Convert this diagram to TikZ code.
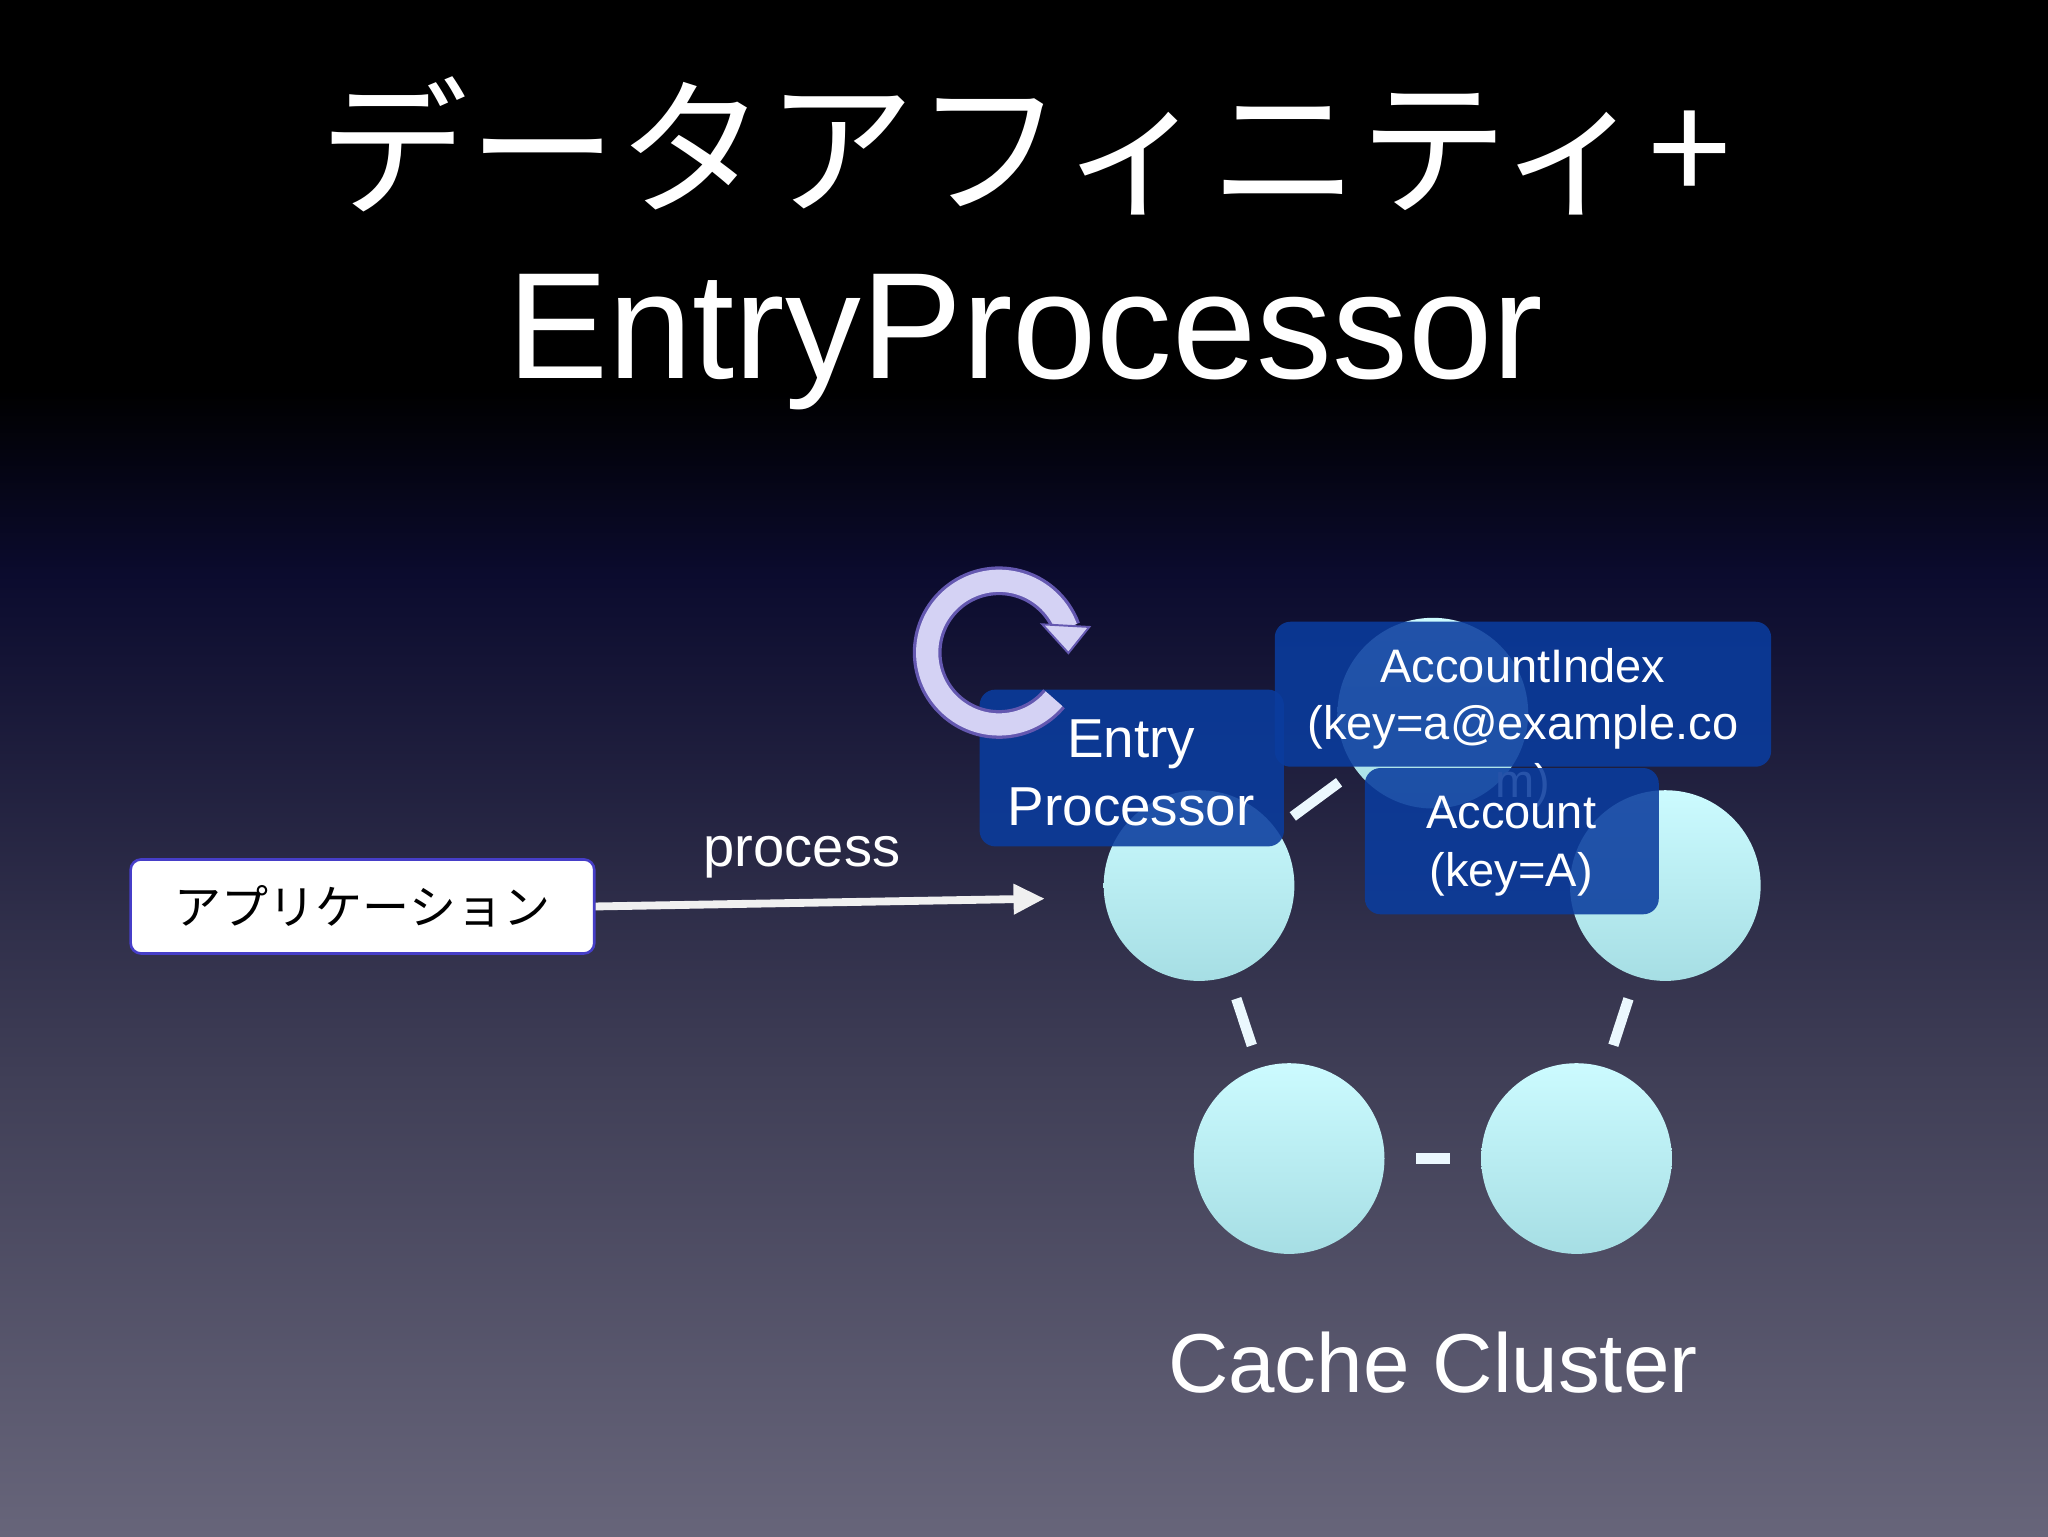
\documentclass[tikz,border=0pt]{standalone}
\usepackage{fontspec}
\setmainfont{Liberation Sans}
\newfontfamily\cjk{Noto Sans CJK JP}
\usetikzlibrary{arrows.meta}
\definecolor{bnavy}{HTML}{0B0B2E}
\definecolor{bmid}{HTML}{3F3E56}
\definecolor{bbot}{HTML}{67657A}
\definecolor{boxblue}{HTML}{0A3C9E}
\definecolor{cyanA}{HTML}{CCFBFF}
\definecolor{cyanB}{HTML}{A6DEE4}
\definecolor{lav}{HTML}{D4D2F4}
\definecolor{purp}{HTML}{6458B0}
\tikzset{
  node circ/.style={circle,minimum size=146pt,inner sep=0pt,top color=cyanA,bottom color=cyanB,draw=none},
  link/.style={white!92!cyan,line width=8pt},
  bluebox/.style={rounded corners=12pt,fill=boxblue,fill opacity=0.88,draw=none},
  boxtext/.style={text=white,font=\fontsize{36}{44}\selectfont,align=center,text opacity=1},
}
\begin{document}
\begin{tikzpicture}[x=1pt,y=-1pt]
\useasboundingbox (0,0) rectangle (1568,1176);
\fill[black] (0,0) rectangle (1568,300);
\shade[top color=black,bottom color=bnavy] (0,299) rectangle (1568,440);
\shade[top color=bnavy,bottom color=bmid] (0,439) rectangle (1568,820);
\shade[top color=bmid,bottom color=bbot] (0,819) rectangle (1568,1176);
% title
\node[text=white,font=\cjk\fontsize{114}{120}\selectfont] (t1) at (785,112) {データアフィニティ+};
\node[text=white,font=\fontsize{116}{120}\selectfont] (t2) at (785,262) {EntryProcessor};
% circles
\node[node circ] (c1) at (918,678) {};
\node[node circ] (c2) at (1275,678) {};
\node[node circ] (c3) at (987,887) {};
\node[node circ] (c4) at (1207,887) {};
\node[node circ] (c5) at (1097,546) {};
\draw[link,shorten <=16pt,shorten >=16pt] (c1) -- (c5);
\draw[link,shorten <=18pt,shorten >=18pt] (c1) -- (c3);
\draw[link,shorten <=18pt,shorten >=18pt] (c2) -- (c4);
\draw[link,shorten <=24pt,shorten >=24pt] (c3) -- (c4);
% boxes
\fill[bluebox] (976,476) rectangle (1356,587);
\node[boxtext] (ai) at (1166,557) {AccountIndex\\(key=a@example.co\\m)};
\fill[bluebox] (1045,588) rectangle (1270,700);
\node[boxtext] (ac) at (1157,648) {Account\\(key=A)};
\fill[bluebox] (750,528) rectangle (983,648);
\node[boxtext,font=\fontsize{42}{52}\selectfont] (ep) at (866,592) {Entry\\Processor};
% rotation icon
\draw[purp,line width=22pt] (807,535) arc[start angle=40,end angle=340,radius=55];
\draw[lav,line width=17pt] (807,535) arc[start angle=40,end angle=340,radius=55];
\fill[lav,draw=purp,line width=1.5pt] (798,478) -- (834,480) -- (818,500) -- cycle;
% app
\node[draw=purp!70!blue,line width=2pt,fill=white,rounded corners=8pt,minimum width=355pt,minimum height=72pt,font=\cjk\fontsize{36}{40}\selectfont] (app) at (277.5,694) {アプリケーション};
\draw[white!88!gray,line width=6pt,-{Triangle[length=24pt,width=22pt]}] (app.east) -- (800,688);
\node[text=white,font=\fontsize{43}{48}\selectfont] (proc) at (614,656) {process};
\node[text=white,font=\fontsize{64}{70}\selectfont] (cc) at (1097,1043) {Cache Cluster};
\end{tikzpicture}
\end{document}
